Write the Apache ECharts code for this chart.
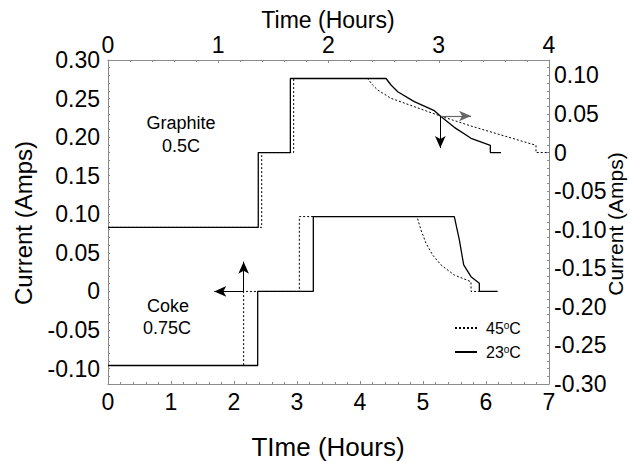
<!DOCTYPE html>
<html>
<head>
<meta charset="utf-8">
<script src="https://cdn.jsdelivr.net/npm/echarts@6/dist/echarts.min.js"></script>
<style>
  html, body { margin: 0; padding: 0; background: #fff; }
  #chart { width: 629px; height: 461px; }
</style>
</head>
<body>
<div id="chart"></div>
<script>
// ---- Data (hours, amps) ----
// Graphite 0.5C : top time axis (0-4 h), right current axis
const graphite23X = [0, 1.363, 1.363, 1.654, 1.654, 2.522, 2.567, 2.628, 2.778, 2.96, 3.014, 3.141, 3.293, 3.468, 3.468, 3.565];
const graphite23Y = [-0.097, -0.097, 0, 0, 0.096, 0.096, 0.0876, 0.0789, 0.066, 0.0543, 0.0474, 0.0327, 0.0185, 0.0094, 0, 0];
const graphite45X = [0, 1.394, 1.394, 1.684, 1.684, 2.355, 2.40, 2.446, 2.567, 2.778, 3.014, 3.293, 3.565, 3.882, 3.882, 4.0];
const graphite45Y = [-0.097, -0.097, 0, 0, 0.096, 0.096, 0.0876, 0.0811, 0.0703, 0.0595, 0.0474, 0.0344, 0.0228, 0.0094, 0, 0];
// Coke 0.75C : bottom time axis (0-7 h), left current axis
const coke23X = [0, 2.376, 2.376, 3.259, 3.259, 5.497, 5.577, 5.646, 5.762, 5.894, 5.894, 6.185];
const coke23Y = [-0.096, -0.096, 0, 0, 0.097, 0.097, 0.0667, 0.0343, 0.0191, 0.0105, 0, 0];
const coke45X = [0, 2.153, 2.153, 3.037, 3.037, 4.905, 4.968, 5.048, 5.153, 5.286, 5.497, 5.762, 5.762, 5.894];
const coke45Y = [-0.096, -0.096, 0, 0, 0.097, 0.097, 0.0796, 0.0624, 0.0472, 0.0343, 0.0213, 0.0126, 0, 0];

// Arrow annotations (axis units)
const graphiteArrowFrom = [3.014, 0.0474];
const graphiteArrowRight = [3.293, 0.0474];
const graphiteArrowDown = [3.014, 0.0059];
const cokeArrowFrom = [2.153, 0];
const cokeArrowLeft = [1.687, 0];
const cokeArrowUp = [2.153, 0.0385];

const seriesNames = ['45°C', '23°C'];
const legendTexts = { '45°C': '{a|45}{s|o}{a|C}', '23°C': '{a|23}{s|o}{a|C}' };

const zip = (xs, ys) => xs.map((x, i) => [x, ys[i]]);
const FONT = 'Liberation Sans, Arial, sans-serif';
const frameColor = '#8a8a8a';

const yFmt = v => {
  const c = Math.round(v * 100);
  if (c % 5 !== 0) return '';
  if (c === 0) return '0';
  return (c / 100).toFixed(2);
};

const axisCommon = {
  type: 'value',
  axisLine: { show: true, onZero: false, lineStyle: { color: frameColor, width: 1 } },
  axisTick: { show: true, inside: true, length: 3, lineStyle: { color: frameColor } },
  splitLine: { show: false },
  axisLabel: { color: '#000', fontFamily: FONT, fontSize: 23 }
};

const chart = echarts.init(document.getElementById('chart'), null, { renderer: 'svg' });

const lineBase = (name, dashed) => ({
  type: 'line',
  name: name,
  showSymbol: false,
  symbol: 'none',
  animation: false,
  silent: true,
  lineStyle: { color: '#000', width: dashed ? 1 : 1.3, type: dashed ? [2, 2] : 'solid' },
  itemStyle: { color: '#000' }
});

const markStyle = {
  silent: true,
  animation: false,
  symbol: ['none', 'arrow'],
  symbolSize: [8, 12],
  label: { show: false },
  emphasis: { disabled: true },
  lineStyle: { color: '#000', width: 1, type: 'solid' }
};

chart.setOption({
  animation: false,
  grid: { left: 108, top: 60, right: 80, bottom: 77, outerBoundsMode: 'none' },
  xAxis: [
    Object.assign({}, axisCommon, {
      position: 'bottom', min: 0, max: 7, interval: 1,
      minorTick: { show: true, splitNumber: 5, length: 2, lineStyle: { color: frameColor } },
      axisLabel: Object.assign({}, axisCommon.axisLabel, { margin: 6 })
    }),
    Object.assign({}, axisCommon, {
      position: 'top', min: 0, max: 4, interval: 1,
      minorTick: { show: true, splitNumber: 5, length: 2, lineStyle: { color: frameColor } },
      axisLabel: Object.assign({}, axisCommon.axisLabel, { margin: 4 })
    })
  ],
  yAxis: [
    Object.assign({}, axisCommon, {
      position: 'left', min: -0.12, max: 0.30, interval: 0.01,
      axisTick: { show: true, inside: true, length: 2, lineStyle: { color: frameColor } },
      axisLabel: Object.assign({}, axisCommon.axisLabel, { margin: 8, formatter: yFmt })
    }),
    Object.assign({}, axisCommon, {
      position: 'right', min: -0.30, max: 0.12, interval: 0.01,
      axisTick: { show: true, inside: true, length: 2, lineStyle: { color: frameColor } },
      axisLabel: Object.assign({}, axisCommon.axisLabel, { margin: 5, formatter: yFmt })
    })
  ],
  legend: {
    orient: 'vertical',
    left: 454,
    top: 320,
    padding: 0,
    itemWidth: 22,
    itemHeight: 14,
    itemGap: 4,
    selectedMode: false,
    data: seriesNames,
    itemStyle: { color: 'transparent', borderWidth: 0, opacity: 0 },
    formatter: name => legendTexts[name],
    textStyle: {
      color: '#000',
      fontFamily: FONT,
      fontSize: 16,
      padding: [0, 0, 0, 4],
      rich: {
        a: { fontFamily: FONT, fontSize: 16, color: '#000', lineHeight: 16 },
        s: { fontFamily: FONT, fontSize: 10, color: '#000', verticalAlign: 'top', lineHeight: 16, padding: [0, 0, 10, 0] }
      }
    }
  },
  series: [
    Object.assign(lineBase('45°C', true), { xAxisIndex: 0, yAxisIndex: 0, data: zip(coke45X, coke45Y) }),
    Object.assign(lineBase('23°C', false), {
      xAxisIndex: 0, yAxisIndex: 0, data: zip(coke23X, coke23Y),
      markLine: Object.assign({}, markStyle, {
        data: [
          [{ coord: cokeArrowFrom }, { coord: cokeArrowLeft }],
          [{ coord: cokeArrowFrom }, { coord: cokeArrowUp }]
        ]
      })
    }),
    Object.assign(lineBase('45°C', true), { xAxisIndex: 1, yAxisIndex: 1, data: zip(graphite45X, graphite45Y) }),
    Object.assign(lineBase('23°C', false), {
      xAxisIndex: 1, yAxisIndex: 1, data: zip(graphite23X, graphite23Y),
      markLine: Object.assign({}, markStyle, {
        data: [
          [{ coord: graphiteArrowFrom, lineStyle: { color: '#666', width: 1.2 } }, { coord: graphiteArrowRight }],
          [{ coord: graphiteArrowFrom }, { coord: graphiteArrowDown }]
        ]
      })
    })
  ],
  graphic: [
    { type: 'text', x: 23, y: 223, rotation: Math.PI / 2, silent: true,
      style: { text: 'Current (Amps)', fontFamily: FONT, fontSize: 24, fill: '#000', align: 'center', verticalAlign: 'middle' } },
    { type: 'text', x: 615, y: 224, rotation: Math.PI / 2, silent: true,
      style: { text: 'Current (Amps)', fontFamily: FONT, fontSize: 21, fill: '#000', align: 'center', verticalAlign: 'middle' } },
    { type: 'text', x: 328, y: 20, silent: true,
      style: { text: 'Time (Hours)', fontFamily: FONT, fontSize: 23, fill: '#000', align: 'center', verticalAlign: 'middle' } },
    { type: 'text', x: 328, y: 447, silent: true,
      style: { text: 'TIme (Hours)', fontFamily: FONT, fontSize: 26, fill: '#000', align: 'center', verticalAlign: 'middle' } },
    { type: 'text', x: 181, y: 123, silent: true,
      style: { text: 'Graphite', fontFamily: FONT, fontSize: 18, fill: '#000', align: 'center', verticalAlign: 'middle' } },
    { type: 'text', x: 181, y: 146, silent: true,
      style: { text: '0.5C', fontFamily: FONT, fontSize: 18, fill: '#000', align: 'center', verticalAlign: 'middle' } },
    { type: 'text', x: 168, y: 306, silent: true,
      style: { text: 'Coke', fontFamily: FONT, fontSize: 18, fill: '#000', align: 'center', verticalAlign: 'middle' } },
    { type: 'text', x: 167, y: 328, silent: true,
      style: { text: '0.75C', fontFamily: FONT, fontSize: 18, fill: '#000', align: 'center', verticalAlign: 'middle' } }
  ]
});
</script>
</body>
</html>
